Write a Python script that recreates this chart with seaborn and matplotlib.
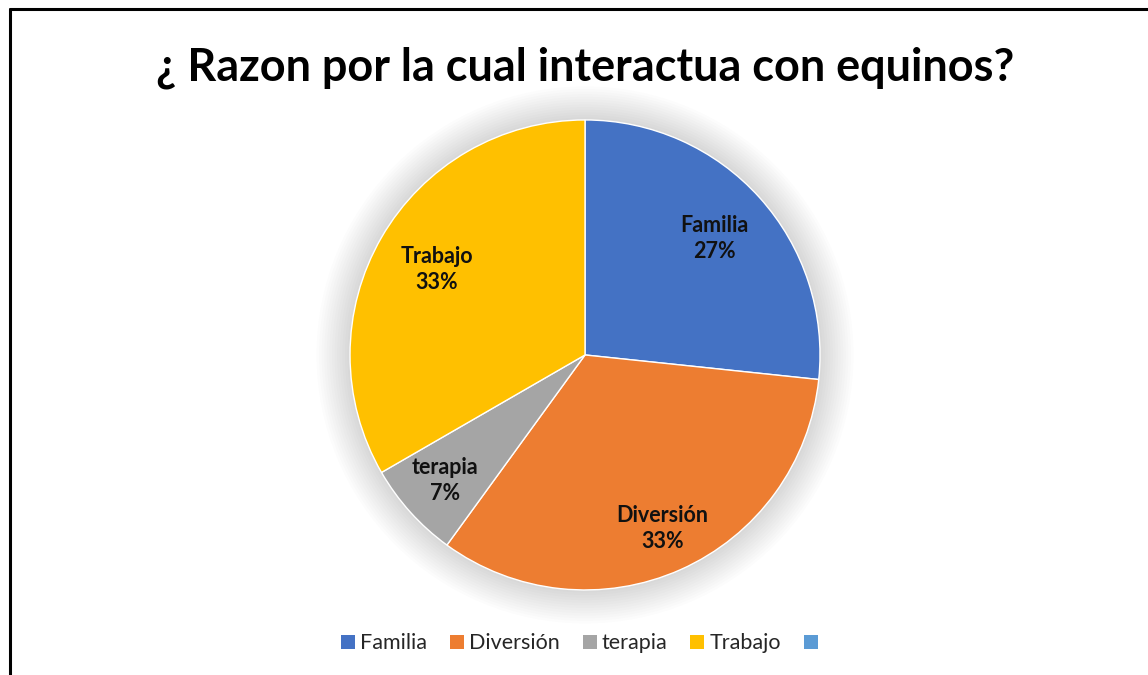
import matplotlib.pyplot as plt
import seaborn as sns
import numpy as np
from matplotlib.patches import Patch, Circle
from matplotlib.lines import Line2D

# Data
categories = ["Familia", "Diversión", "terapia", "Trabajo", ""]
counts = [4, 5, 1, 5, 0]
colors = ["#4472C4", "#ED7D31", "#A5A5A5", "#FFC000", "#5B9BD5"]
title = "¿ Razon por la cual interactua con equinos?"

sns.set_theme(style="white")
plt.rcParams['font.family'] = ['Lato', 'DejaVu Sans']

fig = plt.figure(figsize=(11.48, 6.75), dpi=100)
fig.patch.set_facecolor("white")

# pie axes: square area of 470 px centred on the pie
ax = fig.add_axes([0.3049, 0.126, 0.4094, 0.6963])

# soft shadow round the pie
for i in range(14):
    ax.add_patch(Circle((0, 0), 1.0 + 0.011 * i, color="black",
                        alpha=0.011, lw=0, zorder=0, clip_on=False))

vals = [v for v in counts if v > 0]
names = [c for c, v in zip(categories, counts) if v > 0]
cols = [c for c, v in zip(colors, counts) if v > 0]
total = sum(vals)
labels = [f"{n}\n{round(100 * v / total):.0f}%" for n, v in zip(names, vals)]

wedges, texts = ax.pie(vals, colors=cols, startangle=90, counterclock=False,
                       labels=labels, labeldistance=0.77,
                       wedgeprops=dict(edgecolor="white", linewidth=1.0),
                       textprops=dict(fontsize=15.5, fontweight="bold", color="#111111"))
# label distance per slice (Excel best-fit placement)
dist = [0.74, 0.81, 0.80, 0.73]
for t, w, d in zip(texts, wedges, dist):
    ang = np.deg2rad((w.theta1 + w.theta2) / 2)
    t.set_position((d * np.cos(ang), d * np.sin(ang)))
    t.set_ha("center")
    t.set_va("center")
    t.set_linespacing(1.3)
ax.set_xlim(-1.0, 1.0)
ax.set_ylim(-1.0, 1.0)
ax.set_aspect("equal")
ax.axis("off")

fig.text(0.5096, 0.899, title, ha="center", va="center",
         fontsize=32.4, fontweight="bold", color="#000000")

handles = [Patch(facecolor=c, edgecolor="none") for c in colors]
fig.legend(handles, categories, loc="center", bbox_to_anchor=(0.507, 0.047),
           ncol=5, frameon=False, fontsize=15.5, handlelength=0.65,
           handleheight=0.65, handletextpad=0.25, columnspacing=1.05)

# chart border (left and top visible)
fig.add_artist(Line2D([0.0085, 0.0085], [0, 0.987], transform=fig.transFigure,
                      color="black", lw=2.2))
fig.add_artist(Line2D([0.0085, 1.0], [0.987, 0.987], transform=fig.transFigure,
                      color="black", lw=2.2))

fig.savefig("out.png", dpi=100)
